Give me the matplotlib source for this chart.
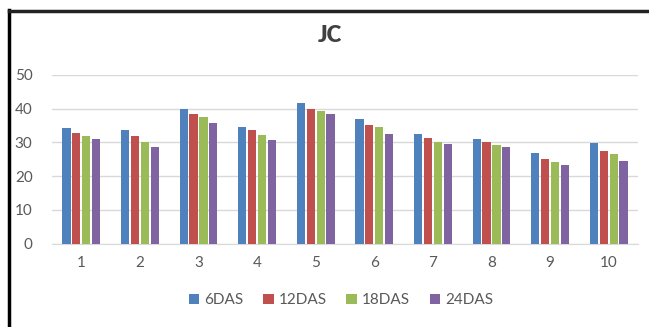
import numpy as np
import matplotlib.pyplot as plt
from matplotlib.lines import Line2D

plt.rcParams['font.family'] = ['Lato', 'DejaVu Sans']

groups = ['1', '2', '3', '4', '5', '6', '7', '8', '9', '10']
series = ['6DAS', '12DAS', '18DAS', '24DAS']
das6 = [34.3, 33.5, 39.8, 34.6, 41.6, 36.8, 32.4, 31.1, 26.9, 29.7]
das12 = [32.7, 31.9, 38.4, 33.5, 39.8, 35.0, 31.4, 30.0, 25.2, 27.5]
das18 = [31.9, 30.0, 37.5, 32.1, 39.3, 34.6, 30.0, 29.1, 24.1, 26.6]
das24 = [30.9, 28.5, 35.8, 30.6, 38.3, 32.4, 29.4, 28.5, 23.3, 24.5]
colors = ['#4F81BD', '#C0504D', '#9BBB59', '#8064A2']

fig = plt.figure(figsize=(6.49, 3.27), dpi=100)
ax = fig.add_axes([52/649, 1 - 243.7/327, 586/649, 169/327])

x = np.arange(len(groups))
slot = 0.168
width = 0.14
for i, (vals, c) in enumerate(zip([das6, das12, das18, das24], colors)):
    ax.bar(x + (i - 1.5) * slot, vals, width, color=c, label=series[i], zorder=3)

ax.set_xlim(-0.5, len(groups) - 0.5)
ax.set_ylim(0, 50)
ax.set_yticks(range(0, 51, 10))
ax.set_xticks(x)
ax.set_xticklabels(groups)
ax.grid(axis='y', color='#D9D9D9', linewidth=1, zorder=0)
for s in ['left', 'right', 'top']:
    ax.spines[s].set_visible(False)
ax.spines['bottom'].set_color('#D9D9D9')
ax.tick_params(axis='both', length=0, labelsize=11, colors='#595959')
ax.tick_params(axis='y', pad=14)
ax.tick_params(axis='x', pad=9)

fig.text(330/649, 1 - 36/327, 'JC', ha='center', va='center',
         fontsize=16, fontweight='heavy', color='#404040')

ax.legend(loc='center', bbox_to_anchor=(0.493, -0.335), ncol=4, frameon=False,
          fontsize=11, labelcolor='#595959', handlelength=0.7, handleheight=0.7,
          handletextpad=0.3, columnspacing=1.3)

fig.add_artist(Line2D([9/649, 9/649], [0, 1 - 10/327], color='black', lw=2.5))
fig.add_artist(Line2D([9/649, 1], [1 - 11/327, 1 - 11/327], color='#222222', lw=2.5))

fig.savefig('out.png', dpi=100)
